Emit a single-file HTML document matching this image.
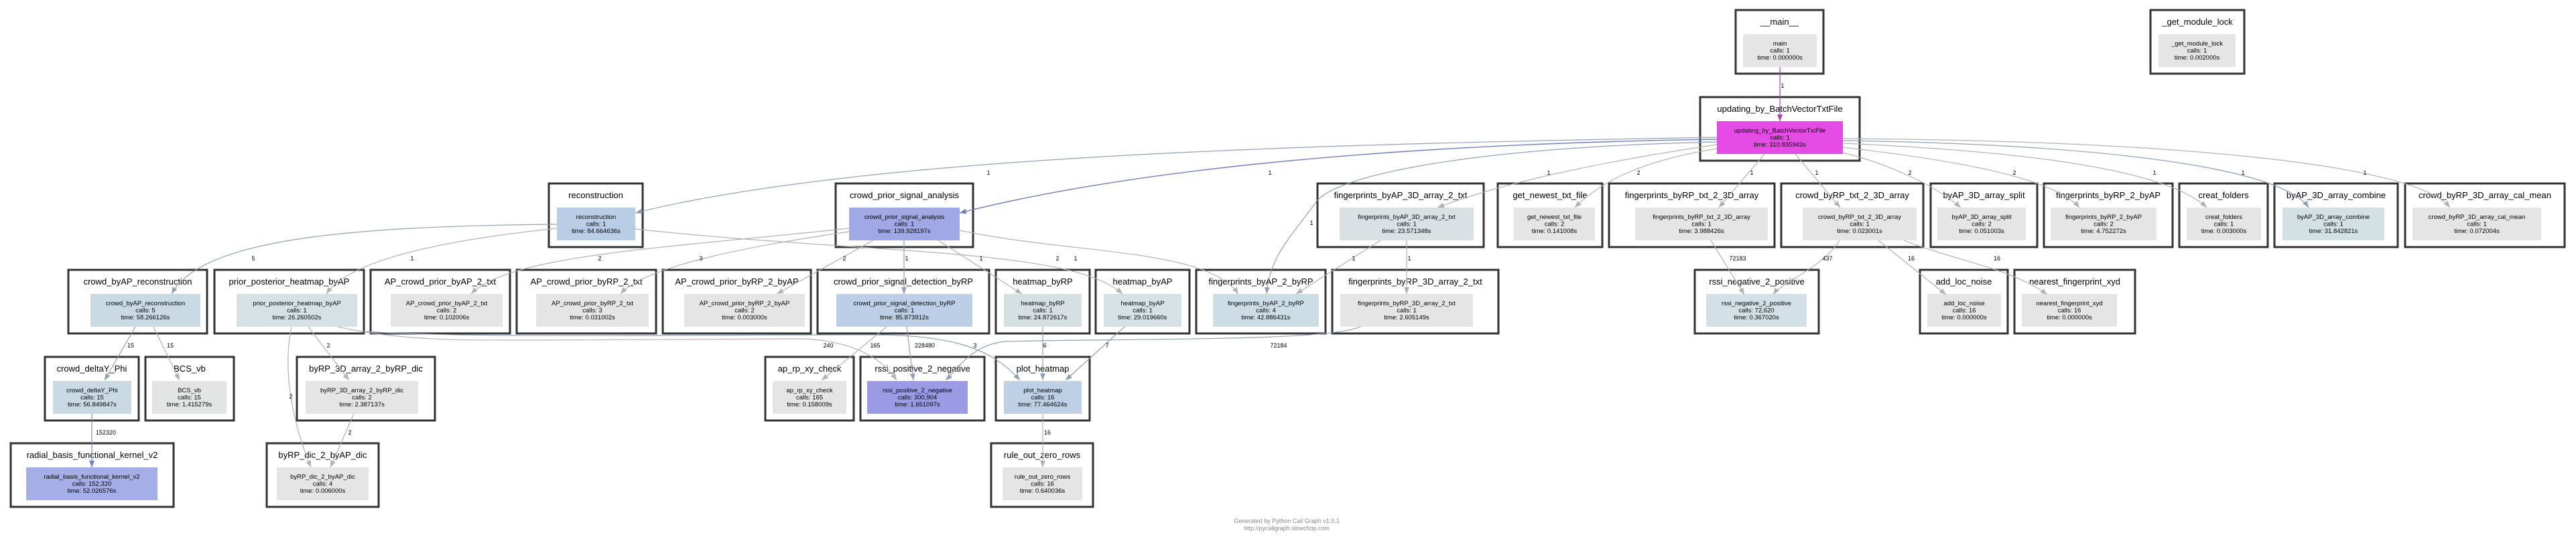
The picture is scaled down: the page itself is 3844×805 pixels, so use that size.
<!DOCTYPE html>
<html><head><meta charset="utf-8"><style>
html,body{margin:0;padding:0;background:#fff;}
svg{display:block;}
.o{fill:#fff;stroke:#333;stroke-width:3;}
.t{font-family:"Liberation Sans",sans-serif;font-size:13px;text-anchor:middle;fill:#000;}
.s{font-family:"Liberation Sans",sans-serif;font-size:9.5px;text-anchor:middle;fill:#000;}
.l{font-family:"Liberation Sans",sans-serif;font-size:9px;text-anchor:middle;fill:#000;}
.g{fill:none;stroke:#b2b2b2;stroke-width:1.2;}
.b{fill:none;stroke:#8fa0b8;stroke-width:1.2;}
.d{fill:none;stroke:#6f7fc0;stroke-width:1.4;}
.m{fill:none;stroke:#b040c0;stroke-width:1.2;}
.f{font-family:"Liberation Sans",sans-serif;font-size:9px;text-anchor:middle;fill:#888;}
</style></head><body>
<svg width="3844" height="805" viewBox="0 0 3844 805" xmlns="http://www.w3.org/2000/svg">
<defs>
<marker id="ag" markerUnits="userSpaceOnUse" markerWidth="10" markerHeight="8" refX="10" refY="4" orient="auto"><path d="M0,0 L10,4 L0,8 z" fill="#b2b2b2"/></marker>
<marker id="ab" markerUnits="userSpaceOnUse" markerWidth="10" markerHeight="8" refX="10" refY="4" orient="auto"><path d="M0,0 L10,4 L0,8 z" fill="#8fa0b8"/></marker>
<marker id="ad" markerUnits="userSpaceOnUse" markerWidth="10" markerHeight="8" refX="10" refY="4" orient="auto"><path d="M0,0 L10,4 L0,8 z" fill="#6f7fc0"/></marker>
<marker id="am" markerUnits="userSpaceOnUse" markerWidth="10" markerHeight="8" refX="10" refY="4" orient="auto"><path d="M0,0 L10,4 L0,8 z" fill="#b040c0"/></marker>
</defs>

<!-- NODES -->
<g>
<rect class="o" x="2590" y="15" width="131" height="95"/><text class="t" x="2655.5" y="37">__main__</text>
<rect x="2601" y="51" width="110" height="49" fill="#e5e5e5"/><text class="s" x="2656" y="68">main</text><text class="s" x="2656" y="78.5">calls: 1</text><text class="s" x="2656" y="89">time: 0.000000s</text>

<rect class="o" x="3209" y="15" width="140" height="95"/><text class="t" x="3279" y="37">_get_module_lock</text>
<rect x="3221" y="51" width="115" height="49" fill="#e5e5e5"/><text class="s" x="3278.5" y="68">_get_module_lock</text><text class="s" x="3278.5" y="78.5">calls: 1</text><text class="s" x="3278.5" y="89">time: 0.002000s</text>

<rect class="o" x="2537" y="145" width="238" height="95"/><text class="t" x="2656" y="167">updating_by_BatchVectorTxtFile</text>
<rect x="2562" y="181" width="188" height="49" fill="#e54ce5"/><text class="s" x="2656" y="198">updating_by_BatchVectorTxtFile</text><text class="s" x="2656" y="208.5">calls: 1</text><text class="s" x="2656" y="219">time: 310.835943s</text>

<!-- Row A -->
<rect class="o" x="819" y="274" width="140" height="95"/><text class="t" x="889" y="296">reconstruction</text>
<rect x="831" y="310" width="117" height="49" fill="#b9cde6"/><text class="s" x="889.5" y="327">reconstruction</text><text class="s" x="889.5" y="337.5">calls: 1</text><text class="s" x="889.5" y="348">time: 84.664636s</text>

<rect class="o" x="1247" y="274" width="205" height="95"/><text class="t" x="1349.5" y="296">crowd_prior_signal_analysis</text>
<rect x="1267" y="310" width="165" height="49" fill="#a0a8e5"/><text class="s" x="1349.5" y="327">crowd_prior_signal_analysis</text><text class="s" x="1349.5" y="337.5">calls: 1</text><text class="s" x="1349.5" y="348">time: 139.928197s</text>

<rect class="o" x="1966" y="274" width="248" height="95"/><text class="t" x="2090" y="296">fingerprints_byAP_3D_array_2_txt</text>
<rect x="1999" y="310" width="200" height="49" fill="#d9e1e5"/><text class="s" x="2099" y="327">fingerprints_byAP_3D_array_2_txt</text><text class="s" x="2099" y="337.5">calls: 1</text><text class="s" x="2099" y="348">time: 23.571348s</text>

<rect class="o" x="2235" y="274" width="156" height="95"/><text class="t" x="2313" y="296">get_newest_txt_file</text>
<rect x="2259" y="310" width="121" height="49" fill="#e5e5e5"/><text class="s" x="2319.5" y="327">get_newest_txt_file</text><text class="s" x="2319.5" y="337.5">calls: 2</text><text class="s" x="2319.5" y="348">time: 0.141008s</text>

<rect class="o" x="2401" y="274" width="247" height="95"/><text class="t" x="2524.5" y="296">fingerprints_byRP_txt_2_3D_array</text>
<rect x="2440" y="310" width="198" height="49" fill="#e5e5e5"/><text class="s" x="2539" y="327">fingerprints_byRP_txt_2_3D_array</text><text class="s" x="2539" y="337.5">calls: 1</text><text class="s" x="2539" y="348">time: 3.988426s</text>

<rect class="o" x="2658" y="274" width="212" height="95"/><text class="t" x="2764" y="296">crowd_byRP_txt_2_3D_array</text>
<rect x="2690" y="310" width="170" height="49" fill="#e5e5e5"/><text class="s" x="2775" y="327">crowd_byRP_txt_2_3D_array</text><text class="s" x="2775" y="337.5">calls: 1</text><text class="s" x="2775" y="348">time: 0.023001s</text>

<rect class="o" x="2881" y="274" width="159" height="95"/><text class="t" x="2960.5" y="296">byAP_3D_array_split</text>
<rect x="2891" y="310" width="132" height="49" fill="#e5e5e5"/><text class="s" x="2957" y="327">byAP_3D_array_split</text><text class="s" x="2957" y="337.5">calls: 2</text><text class="s" x="2957" y="348">time: 0.051003s</text>

<rect class="o" x="3050" y="274" width="192" height="95"/><text class="t" x="3146" y="296">fingerprints_byRP_2_byAP</text>
<rect x="3060" y="310" width="158" height="49" fill="#e5e5e5"/><text class="s" x="3139" y="327">fingerprints_byRP_2_byAP</text><text class="s" x="3139" y="337.5">calls: 2</text><text class="s" x="3139" y="348">time: 4.752272s</text>

<rect class="o" x="3252" y="274" width="132" height="95"/><text class="t" x="3318" y="296">creat_folders</text>
<rect x="3263" y="310" width="111" height="49" fill="#e5e5e5"/><text class="s" x="3318.5" y="327">creat_folders</text><text class="s" x="3318.5" y="337.5">calls: 1</text><text class="s" x="3318.5" y="348">time: 0.003000s</text>

<rect class="o" x="3394" y="274" width="184" height="95"/><text class="t" x="3486" y="296">byAP_3D_array_combine</text>
<rect x="3406" y="310" width="152" height="49" fill="#d3e1e5"/><text class="s" x="3482" y="327">byAP_3D_array_combine</text><text class="s" x="3482" y="337.5">calls: 1</text><text class="s" x="3482" y="348">time: 31.842821s</text>

<rect class="o" x="3589" y="274" width="238" height="95"/><text class="t" x="3708" y="296">crowd_byRP_3D_array_cal_mean</text>
<rect x="3600" y="310" width="192" height="49" fill="#e5e5e5"/><text class="s" x="3696" y="327">crowd_byRP_3D_array_cal_mean</text><text class="s" x="3696" y="337.5">calls: 1</text><text class="s" x="3696" y="348">time: 0.072004s</text>

<!-- Row B -->
<rect class="o" x="102" y="403" width="207" height="95"/><text class="t" x="205.5" y="425">crowd_byAP_reconstruction</text>
<rect x="135" y="439" width="164" height="49" fill="#c9dae5"/><text class="s" x="217" y="456">crowd_byAP_reconstruction</text><text class="s" x="217" y="466.5">calls: 5</text><text class="s" x="217" y="477">time: 58.266126s</text>

<rect class="o" x="320" y="403" width="223" height="95"/><text class="t" x="431.5" y="425">prior_posterior_heatmap_byAP</text>
<rect x="353" y="439" width="180" height="49" fill="#d6e1e5"/><text class="s" x="443" y="456">prior_posterior_heatmap_byAP</text><text class="s" x="443" y="466.5">calls: 1</text><text class="s" x="443" y="477">time: 26.260502s</text>

<rect class="o" x="553" y="403" width="208" height="95"/><text class="t" x="657" y="425">AP_crowd_prior_byAP_2_txt</text>
<rect x="583" y="439" width="167" height="49" fill="#e5e5e5"/><text class="s" x="666.5" y="456">AP_crowd_prior_byAP_2_txt</text><text class="s" x="666.5" y="466.5">calls: 2</text><text class="s" x="666.5" y="477">time: 0.102006s</text>

<rect class="o" x="771" y="403" width="208" height="95"/><text class="t" x="875" y="425">AP_crowd_prior_byRP_2_txt</text>
<rect x="800" y="439" width="168" height="49" fill="#e5e5e5"/><text class="s" x="884" y="456">AP_crowd_prior_byRP_2_txt</text><text class="s" x="884" y="466.5">calls: 3</text><text class="s" x="884" y="477">time: 0.031002s</text>

<rect class="o" x="989" y="403" width="221" height="95"/><text class="t" x="1099.5" y="425">AP_crowd_prior_byRP_2_byAP</text>
<rect x="1021" y="439" width="180" height="49" fill="#e5e5e5"/><text class="s" x="1111" y="456">AP_crowd_prior_byRP_2_byAP</text><text class="s" x="1111" y="466.5">calls: 2</text><text class="s" x="1111" y="477">time: 0.003000s</text>

<rect class="o" x="1220" y="403" width="256" height="95"/><text class="t" x="1348" y="425">crowd_prior_signal_detection_byRP</text>
<rect x="1248" y="439" width="203" height="49" fill="#bccfe6"/><text class="s" x="1349.5" y="456">crowd_prior_signal_detection_byRP</text><text class="s" x="1349.5" y="466.5">calls: 1</text><text class="s" x="1349.5" y="477">time: 85.873912s</text>

<rect class="o" x="1486" y="403" width="140" height="95"/><text class="t" x="1556" y="425">heatmap_byRP</text>
<rect x="1498" y="439" width="116" height="49" fill="#d6e0e3"/><text class="s" x="1556" y="456">heatmap_byRP</text><text class="s" x="1556" y="466.5">calls: 1</text><text class="s" x="1556" y="477">time: 24.872617s</text>

<rect class="o" x="1635" y="403" width="140" height="95"/><text class="t" x="1705" y="425">heatmap_byAP</text>
<rect x="1647" y="439" width="116" height="49" fill="#d6e1e5"/><text class="s" x="1705" y="456">heatmap_byAP</text><text class="s" x="1705" y="466.5">calls: 1</text><text class="s" x="1705" y="477">time: 29.019660s</text>

<rect class="o" x="1785" y="403" width="193" height="95"/><text class="t" x="1881.5" y="425">fingerprints_byAP_2_byRP</text>
<rect x="1810" y="439" width="158" height="49" fill="#cddde5"/><text class="s" x="1889" y="456">fingerprints_byAP_2_byRP</text><text class="s" x="1889" y="466.5">calls: 4</text><text class="s" x="1889" y="477">time: 42.886431s</text>

<rect class="o" x="1988" y="403" width="248" height="95"/><text class="t" x="2112" y="425">fingerprints_byRP_3D_array_2_txt</text>
<rect x="2000" y="439" width="198" height="49" fill="#e5e5e5"/><text class="s" x="2099" y="456">fingerprints_byRP_3D_array_2_txt</text><text class="s" x="2099" y="466.5">calls: 1</text><text class="s" x="2099" y="477">time: 2.605149s</text>

<rect class="o" x="2529" y="403" width="185" height="95"/><text class="t" x="2621.5" y="425">rssi_negative_2_positive</text>
<rect x="2546" y="439" width="150" height="49" fill="#d3e0e5"/><text class="s" x="2621" y="456">rssi_negative_2_positive</text><text class="s" x="2621" y="466.5">calls: 72,620</text><text class="s" x="2621" y="477">time: 0.367020s</text>

<rect class="o" x="2865" y="403" width="131" height="95"/><text class="t" x="2930.5" y="425">add_loc_noise</text>
<rect x="2876" y="439" width="110" height="49" fill="#e5e5e5"/><text class="s" x="2931" y="456">add_loc_noise</text><text class="s" x="2931" y="466.5">calls: 16</text><text class="s" x="2931" y="477">time: 0.000000s</text>

<rect class="o" x="3006" y="403" width="180" height="95"/><text class="t" x="3096" y="425">nearest_fingerprint_xyd</text>
<rect x="3017" y="439" width="142" height="49" fill="#e5e5e5"/><text class="s" x="3088" y="456">nearest_fingerprint_xyd</text><text class="s" x="3088" y="466.5">calls: 16</text><text class="s" x="3088" y="477">time: 0.000000s</text>

<!-- Row C -->
<rect class="o" x="67" y="533" width="140" height="95"/><text class="t" x="137" y="555">crowd_deltaY_Phi</text>
<rect x="79" y="569" width="117" height="49" fill="#c9dae5"/><text class="s" x="137.5" y="586">crowd_deltaY_Phi</text><text class="s" x="137.5" y="596.5">calls: 15</text><text class="s" x="137.5" y="607">time: 56.849847s</text>

<rect class="o" x="217" y="533" width="132" height="95"/><text class="t" x="283" y="555">BCS_vb</text>
<rect x="227" y="569" width="111" height="49" fill="#e3e5e5"/><text class="s" x="282.5" y="586">BCS_vb</text><text class="s" x="282.5" y="596.5">calls: 15</text><text class="s" x="282.5" y="607">time: 1.415279s</text>

<rect class="o" x="443" y="533" width="206" height="95"/><text class="t" x="546" y="555">byRP_3D_array_2_byRP_dic</text>
<rect x="456" y="569" width="168" height="49" fill="#e5e5e5"/><text class="s" x="540" y="586">byRP_3D_array_2_byRP_dic</text><text class="s" x="540" y="596.5">calls: 2</text><text class="s" x="540" y="607">time: 2.387137s</text>

<rect class="o" x="1142" y="533" width="132" height="95"/><text class="t" x="1208" y="555">ap_rp_xy_check</text>
<rect x="1153" y="569" width="110" height="49" fill="#e5e5e5"/><text class="s" x="1208" y="586">ap_rp_xy_check</text><text class="s" x="1208" y="596.5">calls: 165</text><text class="s" x="1208" y="607">time: 0.158009s</text>

<rect class="o" x="1284" y="533" width="185" height="95"/><text class="t" x="1376.5" y="555">rssi_positive_2_negative</text>
<rect x="1294" y="569" width="150" height="49" fill="#9b9be5"/><text class="s" x="1369" y="586">rssi_positive_2_negative</text><text class="s" x="1369" y="596.5">calls: 300,904</text><text class="s" x="1369" y="607">time: 1.651097s</text>

<rect class="o" x="1486" y="533" width="140" height="95"/><text class="t" x="1556" y="555">plot_heatmap</text>
<rect x="1498" y="569" width="116" height="49" fill="#bdd0e6"/><text class="s" x="1556" y="586">plot_heatmap</text><text class="s" x="1556" y="596.5">calls: 16</text><text class="s" x="1556" y="607">time: 77.464624s</text>

<!-- Row D -->
<rect class="o" x="16" y="662" width="243" height="95"/><text class="t" x="137.5" y="684">radial_basis_functional_kernel_v2</text>
<rect x="39" y="698" width="196" height="49" fill="#a5aee6"/><text class="s" x="137" y="715">radial_basis_functional_kernel_v2</text><text class="s" x="137" y="725.5">calls: 152,320</text><text class="s" x="137" y="736">time: 52.026576s</text>

<rect class="o" x="398" y="662" width="167" height="95"/><text class="t" x="481.5" y="684">byRP_dic_2_byAP_dic</text>
<rect x="413" y="698" width="137" height="49" fill="#e5e5e5"/><text class="s" x="481.5" y="715">byRP_dic_2_byAP_dic</text><text class="s" x="481.5" y="725.5">calls: 4</text><text class="s" x="481.5" y="736">time: 0.006000s</text>

<rect class="o" x="1479" y="662" width="152" height="95"/><text class="t" x="1555" y="684">rule_out_zero_rows</text>
<rect x="1496" y="698" width="119" height="49" fill="#e5e5e5"/><text class="s" x="1555.5" y="715">rule_out_zero_rows</text><text class="s" x="1555.5" y="725.5">calls: 16</text><text class="s" x="1555.5" y="736">time: 0.640036s</text>
</g>

<!-- EDGES -->
<g>
<path class="m" d="M2656 100 L2656 181" marker-end="url(#am)"/><text class="l" x="2660" y="131">1</text>
<path class="b" d="M2562 205 C 2000 215, 1300 230, 948 318" marker-end="url(#ab)"/><text class="l" x="1475" y="261">1</text>
<path class="d" d="M2562 208 C 2100 215, 1700 250, 1432 318" marker-end="url(#ad)"/><text class="l" x="1895" y="261">1</text>
<path class="b" d="M2562 212 C 2200 220, 2000 260, 1965 300 C 1930 350, 1895 380, 1890 439" marker-end="url(#ab)"/><text class="l" x="1957" y="336">1</text>
<path class="g" d="M2562 216 C 2400 240, 2250 270, 2145 310" marker-end="url(#ag)"/><text class="l" x="2311" y="261">1</text>
<path class="g" d="M2562 222 C 2450 240, 2390 270, 2350 310" marker-end="url(#ag)"/><text class="l" x="2445" y="261">2</text>
<path class="g" d="M2633 230 L2565 310" marker-end="url(#ag)"/><text class="l" x="2614" y="261">1</text>
<path class="g" d="M2679 230 L2746 310" marker-end="url(#ag)"/><text class="l" x="2711" y="261">1</text>
<path class="g" d="M2750 228 C 2800 240, 2880 270, 2926 310" marker-end="url(#ag)"/><text class="l" x="2850" y="261">2</text>
<path class="g" d="M2750 220 C 2880 235, 3060 260, 3103 310" marker-end="url(#ag)"/><text class="l" x="3006" y="261">2</text>
<path class="g" d="M2750 214 C 3000 225, 3230 250, 3293 310" marker-end="url(#ag)"/><text class="l" x="3215" y="261">1</text>
<path class="b" d="M2750 210 C 3100 215, 3400 245, 3445 310" marker-end="url(#ab)"/><text class="l" x="3347" y="261">1</text>
<path class="g" d="M2750 207 C 3200 210, 3600 240, 3656 310" marker-end="url(#ag)"/><text class="l" x="3529" y="261">1</text>

<path class="b" d="M831 335 C 500 338, 300 360, 256 439" marker-end="url(#ab)"/><text class="l" x="378" y="389">5</text>
<path class="g" d="M831 341 C 650 360, 520 390, 487 439" marker-end="url(#ag)"/><text class="l" x="615" y="389">1</text>
<path class="g" d="M948 342 C 1300 380, 1600 370, 1675 439" marker-end="url(#ag)"/><text class="l" x="1605" y="389">1</text>
<path class="g" d="M1267 341 C 1000 370, 760 380, 703 439" marker-end="url(#ag)"/><text class="l" x="895" y="389">2</text>
<path class="g" d="M1267 346 C 1100 370, 960 400, 926 439" marker-end="url(#ag)"/><text class="l" x="1046" y="389">3</text>
<path class="g" d="M1303 359 L1159 439" marker-end="url(#ag)"/><text class="l" x="1260" y="389">2</text>
<path class="b" d="M1349 359 L1349 439" marker-end="url(#ab)"/><text class="l" x="1353" y="389">1</text>
<path class="g" d="M1400 359 L1525 439" marker-end="url(#ag)"/><text class="l" x="1464" y="389">1</text>
<path class="g" d="M1432 344 C 1600 380, 1800 370, 1848 439" marker-end="url(#ag)"/><text class="l" x="1578" y="389">2</text>
<path class="g" d="M2060 359 L1934 439" marker-end="url(#ag)"/><text class="l" x="2020" y="389">1</text>
<path class="g" d="M2099 359 L2099 439" marker-end="url(#ag)"/><text class="l" x="2103" y="389">1</text>
<path class="g" d="M2553 359 L2603 440" marker-end="url(#ag)"/><text class="l" x="2593" y="389">72183</text>
<path class="g" d="M2745 359 C 2720 400, 2660 420, 2646 440" marker-end="url(#ag)"/><text class="l" x="2727" y="389">437</text>
<path class="g" d="M2803 359 L2904 440" marker-end="url(#ag)"/><text class="l" x="2852" y="389">16</text>
<path class="g" d="M2841 359 C 2920 390, 3000 400, 3055 440" marker-end="url(#ag)"/><text class="l" x="2980" y="389">16</text>

<path class="b" d="M202 488 L156 568" marker-end="url(#ab)"/><text class="l" x="195" y="519">15</text>
<path class="g" d="M229 488 L268 568" marker-end="url(#ag)"/><text class="l" x="254" y="519">15</text>
<path class="g" d="M460 488 L521 568" marker-end="url(#ag)"/><text class="l" x="490" y="519">2</text>
<path class="g" d="M435 488 C 420 560, 440 640, 464 698" marker-end="url(#ag)"/><text class="l" x="434" y="595">2</text>
<path class="g" d="M528 618 L493 698" marker-end="url(#ag)"/><text class="l" x="522" y="649">2</text>
<path fill="none" stroke="#7f88bb" stroke-width="1.2" d="M137 618 L137 698" marker-end="url(#ad)"/><text class="l" x="158" y="649">152320</text>
<path class="g" d="M504 488 C 600 510, 700 508, 800 508 L 1200 506 C 1280 510, 1320 540, 1338 568" marker-end="url(#ag)"/><text class="l" x="1236" y="519">240</text>
<path class="b" d="M540 495 C 700 505, 1000 500, 1300 500 C 1420 500, 1480 520, 1522 568" marker-end="url(#ab)"/><text class="l" x="1455" y="519">3</text>
<path class="g" d="M1323 488 L1226 568" marker-end="url(#ag)"/><text class="l" x="1306" y="519">165</text>
<path class="b" d="M1353 488 L1363 568" marker-end="url(#ab)"/><text class="l" x="1380" y="519">228480</text>
<path class="b" d="M2030 488 C 1980 510, 1700 505, 1500 510 C 1450 515, 1430 550, 1411 568" marker-end="url(#ab)"/><text class="l" x="1908" y="519">72184</text>
<path class="b" d="M1556 488 L1556 568" marker-end="url(#ab)"/><text class="l" x="1559" y="519">6</text>
<path class="b" d="M1678 488 L1590 568" marker-end="url(#ab)"/><text class="l" x="1652" y="519">7</text>
<path class="g" d="M1556 618 L1556 698" marker-end="url(#ag)"/><text class="l" x="1563" y="649">16</text>
</g>

<text class="f" x="1920" y="781">Generated by Python Call Graph v1.0.1</text>
<text class="f" x="1920" y="792">http://pycallgraph.slowchop.com</text>
</svg>
</body></html>
